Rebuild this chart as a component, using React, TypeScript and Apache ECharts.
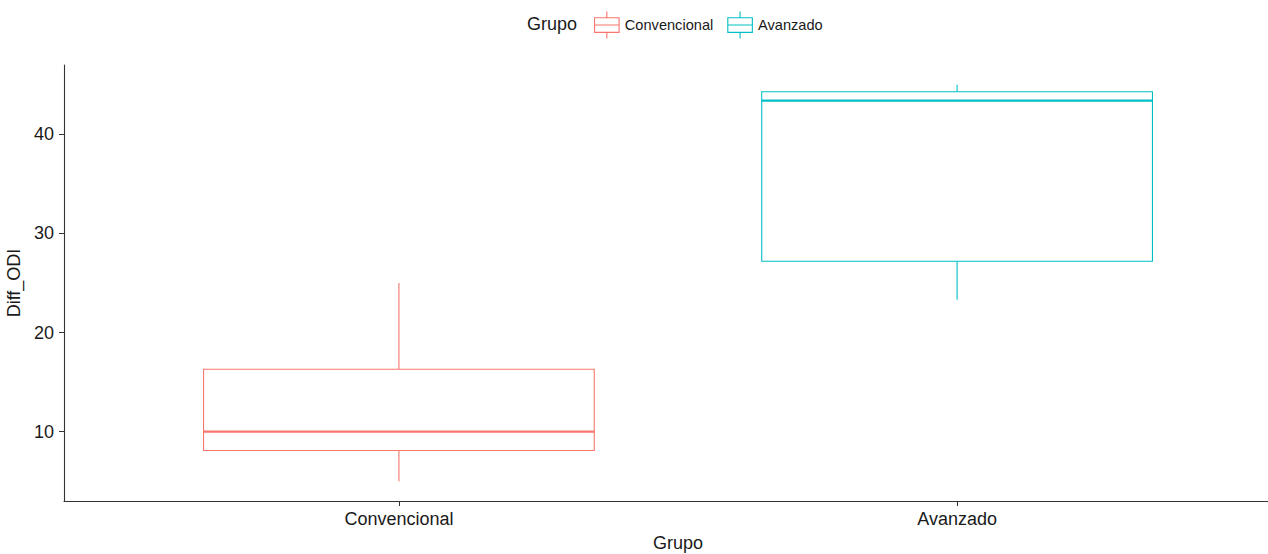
import React, { useEffect, useRef } from "react";
import * as echarts from "echarts";

// Box-plot summaries of Diff_ODI per group
const groups = ["Convencional", "Avanzado"];
const groupColors = ["#F8766D", "#00BFC4"];
const whiskerLow = [5, 23.3];
const lowerQuartile = [8.1, 27.2];
const medians = [10, 43.4];
const upperQuartile = [16.3, 44.3];
const whiskerHigh = [25, 45];
const yTicks = [10, 20, 30, 40];
const xTicks = [1, 2];

const FONT = '"Liberation Sans", Arial, sans-serif';
const TEXT = "#1a1a1a";
const AXIS = "#333333";
const BOX_WIDTH = 0.7;

// Legend glyph: small box with whiskers and a median line
const boxIcon =
  "path://M11,0 L11,5 M1,5 L21,5 L21,17 L1,17 Z M1,11 L21,11 M11,17 L11,22";

export default function App() {
  const ref = useRef<HTMLDivElement>(null);

  useEffect(() => {
    if (!ref.current) return;
    const chart = echarts.init(ref.current, undefined, { renderer: "svg" });

    const renderBox = (params: any, api: any) => {
      const x = api.value(0);
      const color = groupColors[params.seriesIndex];
      const half = api.size([BOX_WIDTH, 0])[0] / 2;
      const pLow = api.coord([x, api.value(1)]);
      const pQ1 = api.coord([x, api.value(2)]);
      const pMed = api.coord([x, api.value(3)]);
      const pQ3 = api.coord([x, api.value(4)]);
      const pHigh = api.coord([x, api.value(5)]);
      const cx = pMed[0];
      const thin = { stroke: color, lineWidth: 1.1, fill: "none" };
      return {
        type: "group",
        children: [
          { type: "line", shape: { x1: cx, y1: pHigh[1], x2: cx, y2: pQ3[1] }, style: thin },
          { type: "line", shape: { x1: cx, y1: pQ1[1], x2: cx, y2: pLow[1] }, style: thin },
          {
            type: "rect",
            shape: { x: cx - half, y: pQ3[1], width: 2 * half, height: pQ1[1] - pQ3[1] },
            style: { stroke: color, lineWidth: 1.1, fill: "#ffffff" },
          },
          {
            type: "line",
            shape: { x1: cx - half, y1: pMed[1], x2: cx + half, y2: pMed[1] },
            style: { stroke: color, lineWidth: 2.2 },
          },
        ],
      };
    };

    const series = groups.map((g, i) => ({
      type: "custom",
      name: g,
      itemStyle: { color: groupColors[i], borderColor: groupColors[i] },
      renderItem: renderBox,
      encode: { x: 0, y: [1, 2, 3, 4, 5] },
      data: [
        [i + 1, whiskerLow[i], lowerQuartile[i], medians[i], upperQuartile[i], whiskerHigh[i]],
      ],
      clip: false,
    }));

    chart.setOption({
      animation: false,
      backgroundColor: "#ffffff",
      color: groupColors,
      textStyle: { fontFamily: FONT },
      grid: { left: 64, top: 65, width: 1228, height: 436, outerBoundsMode: "none" },
      legend: {
        left: 589,
        top: 6,
        itemWidth: 26,
        itemHeight: 27,
        itemGap: 14,
        textStyle: { fontFamily: FONT, fontSize: 14.6, color: TEXT },
        data: groups.map((g, i) => ({
          name: g,
          icon: boxIcon,
          itemStyle: { color: "rgba(0,0,0,0)", borderColor: groupColors[i], borderWidth: 1.1 },
        })),
      },
      graphic: [
        {
          type: "text",
          left: 527,
          top: 15,
          style: { text: "Grupo", fontFamily: FONT, fontSize: 18, fill: TEXT },
        },
      ],
      xAxis: {
        type: "value",
        min: 0.4,
        max: 2.6,
        name: "Grupo",
        nameLocation: "middle",
        nameGap: 33,
        nameTextStyle: { fontFamily: FONT, fontSize: 18, color: TEXT },
        axisLine: { lineStyle: { color: AXIS, width: 1.1 } },
        axisTick: { customValues: xTicks, length: 5, lineStyle: { color: AXIS } },
        axisLabel: {
          customValues: xTicks,
          formatter: (v: number) => groups[Math.round(v) - 1] ?? "",
          fontFamily: FONT,
          fontSize: 18,
          color: TEXT,
          margin: 9,
        },
        splitLine: { show: false },
      },
      yAxis: {
        type: "value",
        min: 3,
        max: 47,
        name: "Diff_ODI",
        nameLocation: "middle",
        nameGap: 30,
        nameTextStyle: { fontFamily: FONT, fontSize: 18, color: TEXT },
        axisLine: { show: true, lineStyle: { color: AXIS, width: 1.1 } },
        axisTick: { show: true, customValues: yTicks, length: 5, lineStyle: { color: AXIS } },
        axisLabel: {
          customValues: yTicks,
          fontFamily: FONT,
          fontSize: 18,
          color: TEXT,
          margin: 10,
        },
        splitLine: { show: false },
      },
      series,
    });

    return () => chart.dispose();
  }, []);

  return (
    <div
      ref={ref}
      style={{ position: "fixed", left: 0, top: 0, width: 1268, height: 554, background: "#fff" }}
    />
  );
}
